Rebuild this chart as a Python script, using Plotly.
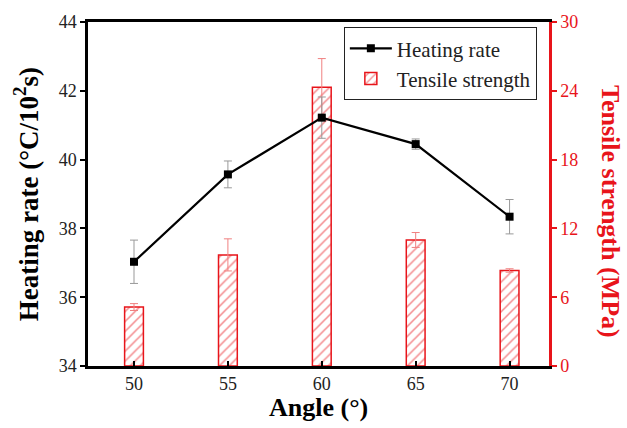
import plotly.graph_objects as go

angles = [50, 55, 60, 65, 70]
heating_rate = [37.03, 39.57, 41.22, 40.45, 38.34]
heating_err = [0.63, 0.39, 0.6, 0.15, 0.5]
tensile = [5.14, 9.69, 24.31, 10.99, 8.33]
tensile_err = [0.3, 1.4, 2.5, 0.65, 0.15]

RED = "#e8141a"
FONT = "Liberation Serif"

fig = go.Figure()
fig.add_trace(go.Bar(
    x=angles, y=tensile, name="Tensile strength", yaxis="y", width=1.0,
    marker=dict(color="white", line=dict(color=RED, width=1.5),
                pattern=dict(shape="/", fgcolor=RED, bgcolor="white", size=7, solidity=0.22)),
    error_y=dict(type="data", array=tensile_err, color="#f08080", thickness=1, width=4),
    legendrank=2,
))
fig.add_trace(go.Scatter(
    x=angles, y=heating_rate, name="Heating rate", yaxis="y2", mode="lines+markers",
    line=dict(color="black", width=2.2), marker=dict(symbol="square", size=8, color="black"),
    error_y=dict(type="data", array=heating_err, color="#999999", thickness=1, width=4),
    legendrank=1,
))

fig.update_layout(
    width=627, height=428,
    margin=dict(l=88, r=78, t=20, b=62),
    plot_bgcolor="white", paper_bgcolor="white",
    font=dict(family=FONT, size=18, color="#222"),
    showlegend=True,
    legend=dict(x=0.555, y=0.985, xanchor="left", yanchor="top",
                bordercolor="#222", borderwidth=1, bgcolor="white", itemwidth=42,
                font=dict(family=FONT, size=21, color="#222"), tracegroupgap=0),
    xaxis=dict(range=[47.55, 72.1], tickvals=angles, ticks="inside", ticklen=5, tickwidth=2,
               tickcolor="black", showline=True, linecolor="black", linewidth=2.5, mirror=True,
               showgrid=False, zeroline=False, tickfont=dict(family=FONT, size=18, color="#222")),
    yaxis=dict(range=[0, 30], tickvals=[0, 6, 12, 18, 24, 30], side="right", ticks="outside",
               ticklen=5, tickwidth=2, tickcolor=RED, showline=True, linecolor=RED, linewidth=2.5,
               showgrid=False, zeroline=False, tickfont=dict(family=FONT, size=18, color=RED)),
    yaxis2=dict(range=[34, 44], tickvals=[34, 36, 38, 40, 42, 44], side="left", overlaying="y",
                ticks="outside", ticklen=5, tickwidth=2, tickcolor="black", showline=True,
                linecolor="black", linewidth=2.5, showgrid=False, zeroline=False,
                tickfont=dict(family=FONT, size=18, color="#222")),
    annotations=[
        dict(text="<b>Angle</b> <b>(°)</b>", xref="paper", yref="paper", x=0.5, y=-0.121,
             yanchor="middle", showarrow=False, font=dict(family=FONT, size=26, color="black")),
        dict(text="<b>Heating rate (°C/10<sup>2</sup>s)</b>", xref="paper", yref="paper",
             x=-0.134, y=0.5, xanchor="center", yanchor="middle", textangle=-90, showarrow=False,
             font=dict(family=FONT, size=27, color="black")),
        dict(text="<b>Tensile strength (MPa)</b>", xref="paper", yref="paper",
             x=1.135, y=0.45, xanchor="center", yanchor="middle", textangle=90, showarrow=False,
             font=dict(family=FONT, size=26, color=RED)),
    ],
)

fig.write_html("out.html")
